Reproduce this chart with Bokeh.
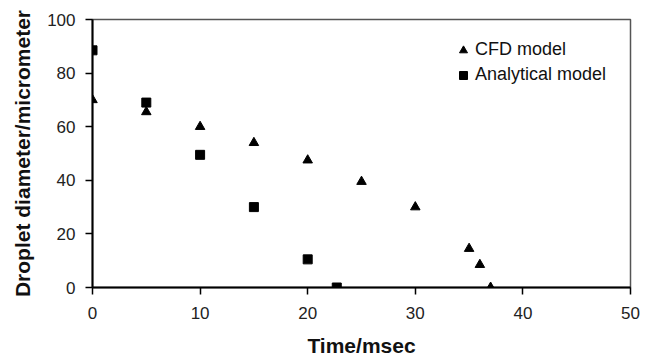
from bokeh.plotting import figure
from bokeh.models import Legend, LegendItem, Range1d, FixedTicker
from bokeh.embed import file_html
from bokeh.resources import INLINE

cfd_time = [0, 5, 10, 15, 20, 25, 30, 35, 36, 37]
cfd_diam = [70, 65.5, 60, 54, 47.5, 39.5, 30, 14.5, 8.5, 0]
ana_time = [0, 5, 10, 15, 20, 22.7]
ana_diam = [88.5, 69, 49.5, 30, 10.5, 0]
x_ticks = [0, 10, 20, 30, 40, 50]
y_ticks = [0, 20, 40, 60, 80, 100]

p = figure(width=640, height=359, output_backend="svg", toolbar_location=None,
           x_range=Range1d(0, 50), y_range=Range1d(0, 100),
           min_border_left=92, min_border_right=10, min_border_top=19, min_border_bottom=72)
p.xgrid.visible = False
p.ygrid.visible = False
p.outline_line_color = "#555555"
p.outline_line_width = 1.5

for ax in (p.xaxis[0], p.yaxis[0]):
    ax.major_label_text_font = "Liberation Sans"
    ax.major_label_text_font_size = "17px"
    ax.major_label_text_color = "#222222"
    ax.axis_label_text_font = "Liberation Sans"
    ax.axis_label_text_font_style = "bold"
    ax.axis_label_text_color = "#111111"
    ax.axis_line_color = "black"
    ax.axis_line_width = 2
    ax.major_tick_line_color = "black"
    ax.major_tick_line_width = 1.5
    ax.major_tick_out = 7
    ax.major_tick_in = 0
    ax.minor_tick_line_color = None

p.xaxis.ticker = FixedTicker(ticks=x_ticks)
p.yaxis.ticker = FixedTicker(ticks=y_ticks)
p.xaxis.axis_label = "Time/msec"
p.yaxis.axis_label = "Droplet diameter/micrometer"
p.xaxis.axis_label_text_font_size = "21px"
p.yaxis.axis_label_text_font_size = "21px"
p.xaxis.major_label_standoff = 12
p.yaxis.major_label_standoff = 10
p.xaxis.axis_label_standoff = 12
p.yaxis.axis_label_standoff = 10

r1 = p.scatter(cfd_time, cfd_diam, marker="triangle", size=9.5, color="black")
r2 = p.scatter(ana_time, ana_diam, marker="square", size=9, color="black")

legend = Legend(items=[LegendItem(label="CFD model", renderers=[r1]),
                       LegendItem(label="Analytical model", renderers=[r2])],
                location=(361, 202))
legend.border_line_color = None
legend.background_fill_alpha = 0
legend.label_text_font = "Liberation Sans"
legend.label_text_font_size = "18px"
legend.label_text_color = "#111111"
legend.glyph_width = 20
legend.glyph_height = 20
legend.label_standoff = 2
legend.spacing = 4
legend.margin = 0
legend.padding = 5
p.add_layout(legend)

open("out.html", "w").write(file_html(p, INLINE))
